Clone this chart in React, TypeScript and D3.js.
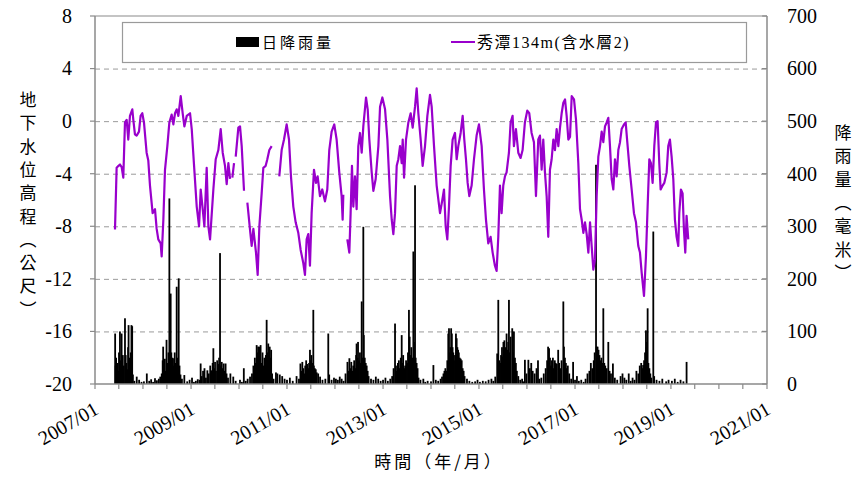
import React from 'react';
import * as d3 from 'd3';

// groundwater level (m), decimal year -> level, null = gap in record
const gwLevel: [number, number | null][] = [
  [2007.417, -8.25], [2007.451, -3.55], [2007.49, -3.4], [2007.521, -3.3], [2007.556, -3.5], [2007.59, -4.3],
  [2007.625, -0.1], [2007.66, 0.1], [2007.694, -1.4], [2007.729, 0.4], [2007.778, 0.9], [2007.799, 0.1],
  [2007.833, -1.0], [2007.868, -1.1], [2007.917, -0.8], [2007.951, 0.4], [2007.986, 0.6], [2008.021, -0.1],
  [2008.076, -2.4], [2008.111, -3.0], [2008.146, -4.9], [2008.201, -7.0], [2008.25, -6.7], [2008.285, -8.2],
  [2008.319, -9.0], [2008.368, -9.3], [2008.389, -10.3], [2008.424, -7.5], [2008.458, -3.7], [2008.507, -1.9],
  [2008.549, -0.1], [2008.597, 0.5], [2008.632, -0.25], [2008.667, 0.6], [2008.701, 0.9], [2008.736, 0.4],
  [2008.785, 1.9], [2008.826, 0.6], [2008.861, -0.4], [2008.91, 0.4], [2008.979, 0.6], [2009.014, -0.6],
  [2009.063, -3.4], [2009.118, -6.5], [2009.167, -8.0], [2009.201, -5.2], [2009.243, -6.7], [2009.278, -8.0],
  [2009.326, -3.55], [2009.361, -8.0], [2009.396, -9.0], [2009.465, -5.2], [2009.514, -2.9], [2009.569, -2.2],
  [2009.618, -0.6], [2009.66, -2.4], [2009.708, -3.4], [2009.743, -4.8], [2009.778, -3.2], [2009.813, -4.4],
  [2009.84, null], [2009.861, -4.3], [2009.896, -3.2], [2009.91, null], [2009.931, -2.7], [2009.986, -0.5],
  [2010.021, -0.4], [2010.056, -1.9], [2010.104, -5.3], [2010.14, null], [2010.174, -6.2], [2010.229, -8.25],
  [2010.264, -9.5], [2010.299, -8.2], [2010.354, -10.0], [2010.389, -11.7], [2010.424, -8.0], [2010.472, -5.5],
  [2010.507, -3.55], [2010.556, -3.4], [2010.59, -2.9], [2010.632, -2.2], [2010.681, -1.9], [2010.76, null],
  [2010.84, -4.2], [2010.889, -2.2], [2010.938, -1.4], [2010.993, -0.25], [2011.042, -1.4], [2011.083, -4.2],
  [2011.132, -6.5], [2011.181, -7.7], [2011.236, -8.5], [2011.285, -9.8], [2011.34, -10.8], [2011.375, -11.7],
  [2011.41, -9.0], [2011.444, -8.6], [2011.479, -11.0], [2011.514, -7.0], [2011.563, -3.7], [2011.604, -4.7],
  [2011.639, -4.2], [2011.688, -5.7], [2011.736, -5.2], [2011.792, -6.1], [2011.84, -5.2], [2011.882, -2.2],
  [2011.931, -0.8], [2011.986, -0.25], [2012.035, -1.4], [2012.09, -3.9], [2012.139, -5.7], [2012.16, -7.5],
  [2012.174, -5.6], [2012.21, null], [2012.257, -9.0], [2012.299, -10.0], [2012.326, -7.0], [2012.354, -3.4],
  [2012.382, -6.5], [2012.417, -4.2], [2012.451, -6.7], [2012.486, -1.9], [2012.521, -0.9], [2012.556, -2.4],
  [2012.59, -0.4], [2012.646, 1.8], [2012.681, 0.9], [2012.715, -1.4], [2012.764, -3.9], [2012.799, -5.3],
  [2012.847, -4.4], [2012.903, -1.9], [2012.938, 1.1], [2012.986, 1.8], [2013.042, 0.9], [2013.09, -1.4],
  [2013.146, -5.7], [2013.181, -7.5], [2013.215, -8.6], [2013.25, -7.0], [2013.285, -3.4], [2013.319, -2.9],
  [2013.354, -1.9], [2013.389, -3.2], [2013.41, -1.4], [2013.438, -4.3], [2013.479, -1.4], [2013.528, -0.1],
  [2013.576, 0.6], [2013.618, -0.5], [2013.667, 1.1], [2013.701, 2.5], [2013.736, 0.6], [2013.785, -1.4],
  [2013.826, -3.4], [2013.875, -1.9], [2013.924, 0.4], [2013.979, 2.0], [2014.014, 1.1], [2014.063, -1.9],
  [2014.118, -4.9], [2014.188, -7.0], [2014.236, -6.0], [2014.271, -5.2], [2014.306, -8.0], [2014.34, -9.0],
  [2014.375, -6.5], [2014.41, -3.4], [2014.451, -1.4], [2014.5, -0.9], [2014.535, -2.9], [2014.569, -1.9],
  [2014.618, -0.9], [2014.66, 0.4], [2014.694, -1.4], [2014.729, -2.9], [2014.764, -4.7], [2014.799, -5.7],
  [2014.847, -4.9], [2014.896, -2.9], [2014.951, -1.1], [2015.0, -0.25], [2015.056, -1.9], [2015.104, -5.2],
  [2015.146, -7.5], [2015.194, -9.3], [2015.243, -8.8], [2015.285, -10.0], [2015.333, -11.0], [2015.368, -11.4],
  [2015.403, -8.8], [2015.438, -4.9], [2015.472, -7.0], [2015.507, -4.9], [2015.542, -4.2], [2015.576, -3.9],
  [2015.625, -2.4], [2015.66, -0.1], [2015.701, 0.4], [2015.729, -1.9], [2015.771, -0.6], [2015.82, -2.4],
  [2015.868, -2.8], [2015.91, -2.2], [2015.958, -0.1], [2016.007, 0.8], [2016.049, 0.6], [2016.097, -0.9],
  [2016.146, -1.6], [2016.188, -5.7], [2016.236, -1.4], [2016.271, -1.1], [2016.306, -3.7], [2016.34, -1.4],
  [2016.375, -3.9], [2016.41, -5.7], [2016.444, -8.8], [2016.479, -3.7], [2016.514, -2.9], [2016.549, -1.4],
  [2016.583, -2.2], [2016.618, -0.6], [2016.653, -1.9], [2016.688, -0.5], [2016.722, 0.6], [2016.757, 1.4],
  [2016.792, 1.65], [2016.826, 0.4], [2016.861, -1.4], [2016.896, -1.2], [2016.931, 1.9], [2016.979, 1.65],
  [2017.021, 0.1], [2017.069, -3.2], [2017.104, -6.7], [2017.139, -7.5], [2017.174, -8.5], [2017.208, -7.7],
  [2017.243, -8.6], [2017.278, -10.0], [2017.313, -7.7], [2017.347, -9.5], [2017.382, -11.3], [2017.417, -10.5],
  [2017.451, -5.7], [2017.486, -2.7], [2017.521, -1.9], [2017.556, -0.8], [2017.59, -1.6], [2017.625, -0.4],
  [2017.66, -0.1], [2017.694, 0.25], [2017.729, -1.9], [2017.764, -4.4], [2017.799, -5.2], [2017.833, -2.9],
  [2017.868, -4.2], [2017.903, -2.2], [2017.938, -1.6], [2017.972, -0.6], [2018.021, -0.25], [2018.056, -0.1],
  [2018.09, -1.6], [2018.132, -3.4], [2018.181, -5.2], [2018.229, -7.0], [2018.271, -7.7], [2018.319, -9.5],
  [2018.354, -10.0], [2018.389, -11.5], [2018.438, -13.3], [2018.479, -10.3], [2018.514, -6.5], [2018.549, -2.9],
  [2018.583, -3.2], [2018.618, -4.7], [2018.653, -1.9], [2018.688, -0.1], [2018.722, 0.0], [2018.757, -3.2],
  [2018.785, -5.2], [2018.826, -4.9], [2018.861, -4.7], [2018.91, -3.9], [2018.944, -1.9], [2018.979, -1.4],
  [2019.014, -2.7], [2019.049, -4.4], [2019.083, -7.5], [2019.118, -8.8], [2019.153, -9.5], [2019.174, -7.0],
  [2019.208, -5.2], [2019.243, -5.5], [2019.271, -8.25], [2019.299, -10.0], [2019.326, -7.2], [2019.361, -9.0],
];

// daily rainfall (mm), decimal year -> mm
const rainDaily: [number, number][] = [
  [2007.42, 96], [2007.43, 35], [2007.44, 50], [2007.45, 20], [2007.47, 40], [2007.49, 25], [2007.5, 60],
  [2007.52, 100], [2007.53, 45], [2007.555, 96], [2007.57, 30], [2007.58, 55], [2007.6, 35], [2007.625, 125],
  [2007.64, 55], [2007.655, 40], [2007.67, 28], [2007.69, 70], [2007.7, 112], [2007.715, 50], [2007.73, 40],
  [2007.745, 60], [2007.76, 112], [2007.775, 110], [2007.79, 18], [2007.82, 6], [2007.87, 14], [2007.92, 8],
  [2007.97, 4],
  [2008.02, 5], [2008.08, 20], [2008.13, 6], [2008.17, 9], [2008.21, 4], [2008.25, 11], [2008.29, 7],
  [2008.33, 10], [2008.36, 14], [2008.39, 20], [2008.41, 45], [2008.42, 71], [2008.44, 30], [2008.455, 48],
  [2008.47, 25], [2008.49, 84], [2008.51, 40], [2008.53, 60], [2008.549, 353], [2008.56, 45], [2008.576, 172],
  [2008.59, 60], [2008.61, 50], [2008.63, 35], [2008.645, 49], [2008.66, 60], [2008.68, 40], [2008.701, 185],
  [2008.72, 50], [2008.743, 201], [2008.76, 35], [2008.78, 18], [2008.81, 10], [2008.86, 17], [2008.92, 5],
  [2008.97, 8],
  [2009.02, 12], [2009.06, 4], [2009.1, 6], [2009.14, 9], [2009.18, 8], [2009.2, 39], [2009.22, 15],
  [2009.25, 25], [2009.28, 30], [2009.31, 12], [2009.34, 26], [2009.37, 20], [2009.4, 35], [2009.43, 26],
  [2009.45, 40], [2009.465, 68], [2009.48, 30], [2009.5, 42], [2009.52, 25], [2009.545, 45], [2009.57, 38],
  [2009.585, 50], [2009.604, 249], [2009.62, 35], [2009.64, 42], [2009.66, 30], [2009.68, 39], [2009.7, 25],
  [2009.72, 39], [2009.74, 20], [2009.77, 12], [2009.82, 20], [2009.88, 14], [2009.93, 6],
  [2010.02, 8], [2010.06, 4], [2010.1, 30], [2010.14, 6], [2010.18, 10], [2010.23, 14], [2010.27, 20],
  [2010.3, 35], [2010.33, 50], [2010.35, 40], [2010.368, 74], [2010.38, 60], [2010.4, 71], [2010.41, 45],
  [2010.424, 71], [2010.44, 55], [2010.45, 74], [2010.47, 40], [2010.49, 60], [2010.51, 35], [2010.53, 50],
  [2010.545, 40], [2010.56, 55], [2010.576, 122], [2010.59, 60], [2010.61, 77], [2010.62, 40], [2010.64, 71],
  [2010.66, 50], [2010.67, 65], [2010.69, 20], [2010.72, 10], [2010.77, 22], [2010.8, 20], [2010.85, 18],
  [2010.9, 15], [2010.95, 10],
  [2011.0, 8], [2011.06, 12], [2011.12, 6], [2011.2, 15], [2011.25, 10], [2011.28, 39], [2011.3, 25],
  [2011.32, 42], [2011.34, 30], [2011.36, 20], [2011.38, 35], [2011.4, 45], [2011.42, 38], [2011.44, 30],
  [2011.46, 40], [2011.479, 65], [2011.49, 45], [2011.51, 55], [2011.53, 40], [2011.549, 141], [2011.56, 35],
  [2011.58, 30], [2011.6, 28], [2011.62, 22], [2011.65, 20], [2011.69, 14], [2011.74, 8], [2011.8, 10],
  [2011.861, 96], [2011.88, 18], [2011.93, 8], [2011.98, 12],
  [2012.02, 10], [2012.06, 8], [2012.1, 14], [2012.14, 10], [2012.18, 6], [2012.22, 20], [2012.26, 42],
  [2012.28, 25], [2012.3, 49], [2012.32, 30], [2012.34, 42], [2012.36, 25], [2012.38, 35], [2012.4, 45],
  [2012.42, 30], [2012.44, 55], [2012.45, 77], [2012.47, 50], [2012.48, 80], [2012.5, 45], [2012.52, 60],
  [2012.54, 40], [2012.556, 157], [2012.57, 50], [2012.59, 299], [2012.6, 93], [2012.62, 50], [2012.64, 40],
  [2012.66, 35], [2012.68, 25], [2012.7, 15], [2012.75, 10], [2012.8, 8], [2012.85, 14], [2012.9, 10],
  [2012.95, 6],
  [2013.0, 8], [2013.05, 12], [2013.1, 6], [2013.15, 10], [2013.19, 15], [2013.22, 30], [2013.25, 115],
  [2013.27, 35], [2013.29, 25], [2013.31, 40], [2013.33, 45], [2013.35, 30], [2013.37, 50], [2013.389, 93],
  [2013.4, 40], [2013.42, 55], [2013.44, 30], [2013.46, 35], [2013.48, 45], [2013.5, 40], [2013.52, 60],
  [2013.54, 141], [2013.555, 90], [2013.57, 55], [2013.59, 70], [2013.61, 50], [2013.632, 252], [2013.645, 80],
  [2013.667, 378], [2013.68, 50], [2013.7, 40], [2013.72, 30], [2013.74, 12], [2013.78, 8], [2013.84, 10],
  [2013.88, 4], [2013.93, 6],
  [2014.0, 5], [2014.05, 36], [2014.1, 8], [2014.15, 6], [2014.2, 10], [2014.23, 14], [2014.26, 20],
  [2014.28, 25], [2014.3, 30], [2014.32, 25], [2014.34, 45], [2014.36, 96], [2014.375, 106], [2014.39, 60],
  [2014.405, 70], [2014.42, 106], [2014.435, 96], [2014.45, 70], [2014.465, 60], [2014.48, 45], [2014.5, 55],
  [2014.52, 96], [2014.535, 87], [2014.55, 70], [2014.565, 65], [2014.58, 60], [2014.6, 50], [2014.62, 48],
  [2014.64, 45], [2014.66, 30], [2014.68, 25], [2014.7, 15], [2014.75, 10], [2014.8, 6], [2014.86, 4],
  [2014.92, 5], [2014.97, 8],
  [2015.02, 4], [2015.08, 6], [2015.14, 5], [2015.2, 8], [2015.26, 10], [2015.3, 6], [2015.34, 14],
  [2015.38, 58], [2015.403, 160], [2015.42, 45], [2015.44, 40], [2015.46, 55], [2015.48, 70], [2015.49, 52],
  [2015.51, 80], [2015.53, 83], [2015.55, 70], [2015.576, 96], [2015.59, 65], [2015.61, 80], [2015.625, 160],
  [2015.64, 60], [2015.66, 90], [2015.694, 106], [2015.71, 60], [2015.729, 100], [2015.75, 50], [2015.77, 40],
  [2015.79, 25], [2015.82, 15], [2015.86, 8], [2015.9, 10], [2015.93, 5], [2015.958, 46],
  [2015.99, 20], [2016.03, 46], [2016.06, 30], [2016.09, 40], [2016.12, 25], [2016.16, 20], [2016.2, 30],
  [2016.23, 45], [2016.26, 10], [2016.3, 12], [2016.35, 20], [2016.39, 30], [2016.42, 45], [2016.44, 71],
  [2016.46, 68], [2016.48, 50], [2016.5, 35], [2016.52, 45], [2016.54, 50], [2016.56, 30], [2016.58, 45],
  [2016.6, 40], [2016.62, 38], [2016.65, 65], [2016.67, 40], [2016.7, 30], [2016.72, 45], [2016.757, 157],
  [2016.77, 71], [2016.79, 50], [2016.81, 40], [2016.83, 30], [2016.85, 35], [2016.88, 20], [2016.92, 10],
  [2016.96, 42],
  [2017.0, 8], [2017.04, 15], [2017.08, 6], [2017.13, 8], [2017.18, 4], [2017.22, 10], [2017.26, 20],
  [2017.3, 25], [2017.33, 40], [2017.36, 30], [2017.39, 45], [2017.41, 60], [2017.438, 417], [2017.45, 71],
  [2017.47, 71], [2017.49, 65], [2017.51, 55], [2017.53, 45], [2017.55, 50], [2017.57, 40], [2017.59, 144],
  [2017.61, 40], [2017.63, 35], [2017.66, 30], [2017.694, 80], [2017.72, 25], [2017.75, 20], [2017.79, 39],
  [2017.83, 12], [2017.88, 8], [2017.95, 15], [2017.99, 20],
  [2018.03, 12], [2018.07, 8], [2018.12, 20], [2018.16, 6], [2018.2, 12], [2018.24, 8], [2018.28, 25],
  [2018.32, 20], [2018.35, 35], [2018.38, 40], [2018.4, 30], [2018.42, 36], [2018.44, 45], [2018.46, 60],
  [2018.479, 102], [2018.49, 70], [2018.5, 80], [2018.514, 144], [2018.53, 40], [2018.55, 30], [2018.57, 20],
  [2018.59, 12], [2018.632, 290], [2018.65, 15], [2018.7, 8], [2018.76, 6], [2018.82, 10], [2018.9, 5],
  [2018.95, 8],
  [2019.02, 6], [2019.08, 10], [2019.14, 4], [2019.2, 8], [2019.26, 5], [2019.326, 42],
];

const levelTicks = [-20, -16, -12, -8, -4, 0, 4, 8];
const rainTicks = [0, 100, 200, 300, 400, 500, 600, 700];
const yearLabels = [2007, 2009, 2011, 2013, 2015, 2017, 2019, 2021];
const legendLabels = ['日降雨量', '秀潭134m(含水層2)'];
const leftTitle = '地下水位高程︵公尺︶';
const rightTitle = '降雨量︵毫米︶';
const xTitle = '時間（年/月）';

const toDate = (y: number) => {
  const yr = Math.floor(y);
  const a = +new Date(yr, 0, 1);
  const b = +new Date(yr + 1, 0, 1);
  return new Date(a + (y - yr) * (b - a));
};

const width = 856;
const height = 479;
const margins = { l: 95, t: 16, r: 89, b: 95 };
const plotwidth = width - margins.l - margins.r;
const plotheight = height - margins.t - margins.b;

const serifStyle = { fontFamily: "'Liberation Serif'" };
const cjkStyle = { fontFamily: "'Noto Sans CJK TC'" };
const mixedStyle = { fontFamily: "'Liberation Serif', 'Noto Sans CJK TC'" };
const axisColor = '#8a8a8a';
const purple = '#9900cc';

const App = () => {
  const xScale = d3
    .scaleTime()
    .domain([new Date(2007, 0, 1), new Date(2021, 0, 1)])
    .range([0, plotwidth]);
  const yLevel = d3.scaleLinear().domain([-20, 8]).range([plotheight, 0]);
  const yRain = d3.scaleLinear().domain([0, 700]).range([plotheight, 0]);

  const line = d3
    .line<[number, number | null]>()
    .defined(d => d[1] != null)
    .x(d => xScale(toDate(d[0])))
    .y(d => yLevel(d[1] as number));

  const halfYears = xScale.ticks(d3.timeMonth.every(6));
  const fmt = d3.timeFormat('%Y/%m');

  return (
    <svg
      width={width}
      height={height}
      style={{ position: 'absolute', left: 0, top: 0, background: '#fff' }}
    >
      <g transform={`translate(${margins.l}, ${margins.t})`}>
        {/* dashed grid */}
        {levelTicks
          .filter(d => d > -20 && d < 8)
          .map(d => (
            <line
              key={'g' + d}
              x1={0}
              x2={plotwidth}
              y1={yLevel(d) + 0.5}
              y2={yLevel(d) + 0.5}
              stroke="#9a9a9a"
              strokeWidth={1}
              strokeDasharray="5,4"
            />
          ))}

        {/* rainfall bars */}
        {rainDaily.map((d, i) => (
          <rect
            key={'r' + i}
            x={xScale(toDate(d[0])) - 0.9}
            width={1.8}
            y={yRain(d[1])}
            height={plotheight - yRain(d[1])}
            fill="#000"
          />
        ))}

        {/* groundwater line */}
        <path d={line(gwLevel) || ''} fill="none" stroke={purple} strokeWidth={2.2} strokeLinejoin="round" />

        {/* frame */}
        <line x1={0} x2={plotwidth} y1={0} y2={0} stroke={axisColor} strokeWidth={1.2} />
        <line x1={0} x2={0} y1={0} y2={plotheight} stroke={axisColor} strokeWidth={1.5} />
        <line x1={plotwidth} x2={plotwidth} y1={0} y2={plotheight} stroke={axisColor} strokeWidth={1.5} />
        <line x1={0} x2={plotwidth} y1={plotheight} y2={plotheight} stroke={axisColor} strokeWidth={1.5} />

        {/* left axis */}
        {levelTicks.map(d => (
          <g key={'l' + d} transform={`translate(0, ${yLevel(d)})`}>
            <line x1={-5} x2={0} stroke={axisColor} strokeWidth={1.2} />
            <text x={-23} dy="0.34em" textAnchor="end" fontSize={20} fill="#000" style={serifStyle}>
              {d}
            </text>
          </g>
        ))}

        {/* right axis */}
        {rainTicks.map(d => (
          <g key={'rt' + d} transform={`translate(${plotwidth}, ${yRain(d)})`}>
            <line x1={-5} x2={0} stroke={axisColor} strokeWidth={1.2} />
            <text x={20} dy="0.34em" textAnchor="start" fontSize={20} fill="#000" style={serifStyle}>
              {d}
            </text>
          </g>
        ))}

        {/* bottom axis */}
        {halfYears.map(d => (
          <line
            key={'b' + +d}
            x1={xScale(d)}
            x2={xScale(d)}
            y1={plotheight}
            y2={plotheight + 5}
            stroke={axisColor}
            strokeWidth={1.2}
          />
        ))}
        {yearLabels.map(y => (
          <text
            key={'y' + y}
            transform={`translate(${xScale(new Date(y, 0, 1)) + 5}, ${plotheight + 29}) rotate(-30)`}
            textAnchor="end"
            fontSize={20}
            fill="#000"
            style={serifStyle}
          >
            {fmt(new Date(y, 0, 1))}
          </text>
        ))}
      </g>

      {/* axis titles */}
      <text x={439} y={468} textAnchor="middle" fontSize={17} style={{ ...cjkStyle, letterSpacing: '3px' }}>
        {xTitle}
      </text>
      {Array.from(leftTitle).map((c, i) => (
        <text key={'lt' + i} x={28} y={106 + i * 23.3} textAnchor="middle" fontSize={17} style={cjkStyle}>
          {c}
        </text>
      ))}
      {Array.from(rightTitle).map((c, i) => (
        <text key={'rtt' + i} x={843} y={139 + i * 23.3} textAnchor="middle" fontSize={17} style={cjkStyle}>
          {c}
        </text>
      ))}

      {/* legend */}
      <rect x={122.5} y={22.5} width={624} height={40} fill="#fff" stroke="#9a9a9a" strokeWidth={1.2} />
      <rect x={236} y={37} width={23} height={10} fill="#000" />
      <text x={262} y={48} fontSize={15} style={{ ...cjkStyle, letterSpacing: '3px' }}>
        {legendLabels[0]}
      </text>
      <line x1={451} x2={475} y1={42} y2={42} stroke={purple} strokeWidth={2} />
      <text x={477} y={48} fontSize={16} style={{ ...mixedStyle, letterSpacing: '1.5px' }}>
        {legendLabels[1]}
      </text>
    </svg>
  );
};

export default App;
